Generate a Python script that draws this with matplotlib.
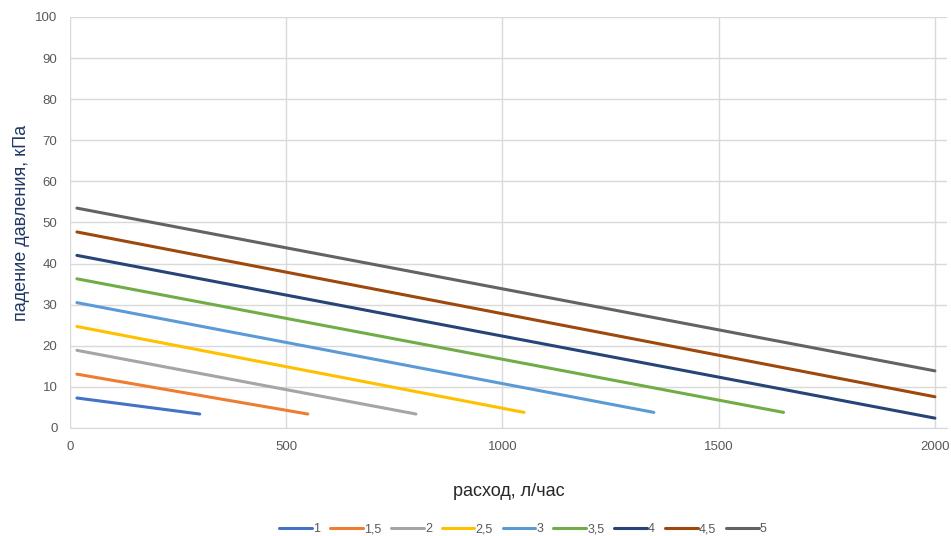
import matplotlib
matplotlib.use('Agg')
import matplotlib.pyplot as plt

plt.rcParams['font.family'] = ['Liberation Sans', 'DejaVu Sans']

# диаметр / серия
labels = ['1', '1,5', '2', '2,5', '3', '3,5', '4', '4,5', '5']
colors = ['#4472C4', '#ED7D31', '#A5A5A5', '#FFC000', '#5B9BD5',
          '#70AD47', '#264478', '#9E480E', '#636363']

# начальная и конечная точки каждой линии (расход, падение давления)
x_start = [16, 16, 16, 16, 16, 16, 16, 16, 16]
x_end = [300, 550, 800, 1050, 1350, 1650, 2000, 2000, 2000]
y_start = [7.3, 13.1, 18.9, 24.7, 30.5, 36.3, 42.0, 47.7, 53.5]
y_end = [3.4, 3.4, 3.4, 3.8, 3.8, 3.8, 2.4, 7.6, 13.9]

fig = plt.figure(figsize=(9.51, 5.36), dpi=100)
ax = fig.add_axes([70 / 951, 1 - 428 / 536, 877 / 951, 411 / 536])

for i in range(len(labels)):
    ax.plot([x_start[i], x_end[i]], [y_start[i], y_end[i]],
            color=colors[i], lw=2.2, label=labels[i], solid_capstyle='round')

ax.set_xlim(0, 2028)
ax.set_ylim(0, 100)
ax.set_xticks([0, 500, 1000, 1500, 2000])
ax.set_yticks(range(0, 101, 10))
ax.grid(True, color='#D9D9D9', lw=1)
ax.set_axisbelow(True)
for s in ['top', 'right', 'left']:
    ax.spines[s].set_visible(False)
ax.spines['bottom'].set_color('#D9D9D9')
ax.tick_params(length=0, colors='#595959', labelsize=9.5, pad=9)

ax.set_xlabel('расход, л/час', fontsize=13, color='#262626', labelpad=22)
ax.set_ylabel('падение давления, кПа', fontsize=13, color='#1F3864', labelpad=4)

fig.legend(loc='center', bbox_to_anchor=(523 / 951, 1 - 529 / 536), ncol=9,
           frameon=False, fontsize=9, handlelength=2.6, handletextpad=0.1,
           columnspacing=0.8, labelcolor='#595959')

fig.savefig('out.png', dpi=100)
